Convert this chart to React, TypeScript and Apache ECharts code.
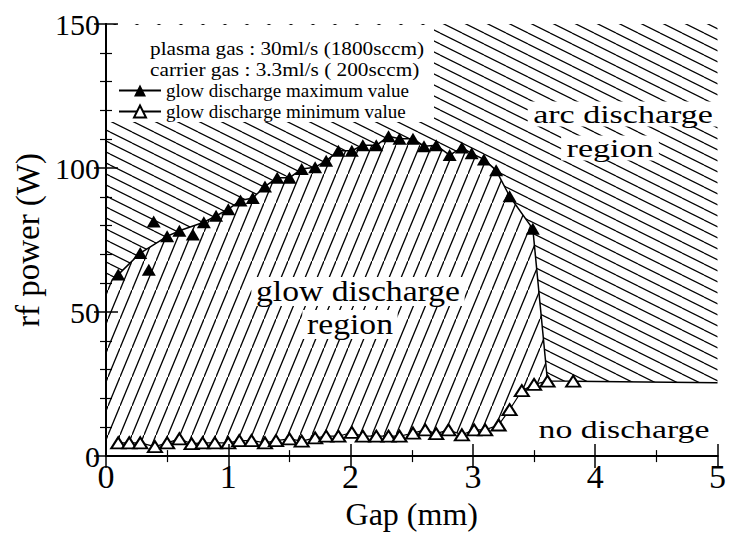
import React, { useEffect, useRef } from "react";
import * as echarts from "echarts";

// ---- data ----
// glow discharge maximum value (connected line)
const maxLine: [number, number][] = [
  [0.10, 63.0], [0.28, 70.5], [0.50, 76.3], [0.60, 78.2], [0.80, 81.2],
  [0.90, 83.4], [1.00, 85.7], [1.10, 88.7], [1.20, 89.6], [1.30, 93.6],
  [1.40, 96.6], [1.50, 96.6], [1.60, 99.7], [1.71, 100.3], [1.80, 102.5],
  [1.90, 106.0], [2.01, 106.0], [2.10, 107.9], [2.21, 107.9], [2.31, 111.0],
  [2.40, 110.2], [2.51, 110.2], [2.60, 107.6], [2.70, 107.9], [2.81, 104.5],
  [2.91, 107.1], [2.99, 105.1], [3.09, 103.0], [3.19, 99.2], [3.30, 90.2],
  [3.49, 78.9],
];
// glow discharge maximum value (points off the line)
const maxExtra: [number, number][] = [
  [0.35, 64.7], [0.39, 81.4], [0.71, 76.9],
];
// glow discharge minimum value
const minLine: [number, number][] = [
  [0.10, 4.6], [0.19, 4.6], [0.28, 4.6], [0.40, 3.3], [0.50, 4.6],
  [0.60, 6.0], [0.70, 4.3], [0.79, 4.6], [0.89, 4.6], [1.00, 4.6],
  [1.09, 5.4], [1.19, 5.4], [1.30, 4.6], [1.39, 5.4], [1.50, 6.0],
  [1.60, 5.2], [1.71, 6.3], [1.80, 6.9], [1.90, 6.9], [2.01, 8.2],
  [2.10, 6.9], [2.21, 6.9], [2.31, 6.9], [2.40, 6.9], [2.51, 8.0],
  [2.61, 9.1], [2.70, 7.8], [2.80, 9.1], [2.91, 7.4], [3.01, 9.1],
  [3.10, 9.1], [3.21, 10.8], [3.30, 16.1], [3.40, 22.7], [3.50, 24.9],
  [3.61, 26.0], [3.82, 26.0],
];
// region boundaries
const turnX = 3.61; // where the max boundary drops onto the min curve
const glowLeftTop = 60; // boundary at the left axis (upper)
const glowLeftBottom = 4.6; // boundary at the left axis (lower)
const noDischargeLevel = 25.5; // upper edge of the "no discharge" region
const xMin = 0, xMax = 5, xInterval = 1;
const yMin = 0, yMax = 150, yInterval = 50;

const SERIF = "Liberation Serif";
const MAX_NAME = "glow discharge maximum value";
const MIN_NAME = "glow discharge minimum value";

function hatch(w: number, h: number, dir: "up" | "down", sw: number) {
  let lines = "";
  for (let k = -1; k <= 1; k++) {
    if (dir === "up") {
      lines += `<line x1="0" y1="${h + k * h}" x2="${w}" y2="${k * h}"/>`;
    } else {
      lines += `<line x1="0" y1="${k * h}" x2="${w}" y2="${h + k * h}"/>`;
    }
  }
  const svg = `<svg xmlns="http://www.w3.org/2000/svg" width="${w}" height="${h}" viewBox="0 0 ${w} ${h}"><g stroke="#000" stroke-width="${sw}">${lines}</g></svg>`;
  return {
    image: "data:image/svg+xml;base64," + btoa(svg),
    repeat: "repeat",
    imageWidth: w,
    imageHeight: h,
  };
}

function label(text: string, x: number, y: number, size: number, opts: any = {}) {
  const { scaleX = 1, bg = false, align = "center" } = opts;
  return {
    type: "text",
    z: 7,
    x,
    y,
    scaleX,
    style: {
      text,
      fill: "#000",
      fontFamily: SERIF,
      fontSize: size,
      align,
      verticalAlign: "middle",
      textAlign: align,
      textVerticalAlign: "middle",
      backgroundColor: bg ? "#fff" : undefined,
      padding: bg ? [0, 4] : 0,
    },
  };
}

export default function App() {
  const ref = useRef<HTMLDivElement>(null);
  useEffect(() => {
    if (!ref.current) return;
    const chart = echarts.init(ref.current, null, { renderer: "svg" });
    const glowPattern = hatch(12, 29, "up", 1.3);
    const arcPattern = hatch(22, 11, "down", 1.2);

    const minUpToTurn = minLine.filter((d) => d[0] <= turnX);
    const minAfterTurn = minLine.filter((d) => d[0] >= turnX);
    const turnPt = minUpToTurn[minUpToTurn.length - 1];
    const lastMax = maxLine[maxLine.length - 1];
    const lastMin = minLine[minLine.length - 1];

    const tickStyle = { color: "#000", width: 1.5 };
    const minorStyle = { color: "#000", width: 1.2 };
    const axisCommon = {
      axisLine: { show: true, lineStyle: { color: "#000", width: 2 } },
      axisTick: { show: true, inside: true, length: 12, lineStyle: tickStyle },
      splitLine: { show: false },
      z: 10,
    };

    const option: any = {
      animation: false,
      backgroundColor: "#fff",
      textStyle: { fontFamily: SERIF },
      grid: { left: 106, right: 11, top: 24, bottom: 68 },
      xAxis: [
        {
          ...axisCommon,
          type: "value",
          position: "bottom",
          min: xMin, max: xMax, interval: xInterval,
          minorTick: { show: true, splitNumber: 2, length: 6, lineStyle: minorStyle },
          axisLabel: { color: "#000", fontFamily: SERIF, fontSize: 34, margin: 3 },
          name: "Gap (mm)",
          nameLocation: "middle",
          nameGap: 31,
          nameTextStyle: { color: "#000", fontFamily: SERIF, fontSize: 32 },
        },
        {
          ...axisCommon,
          type: "value",
          position: "top",
          min: xMin, max: xMax, interval: xInterval,
          minorTick: { show: true, splitNumber: 2, length: 6, lineStyle: minorStyle },
          axisLabel: { show: false },
        },
      ],
      yAxis: [
        {
          ...axisCommon,
          type: "value",
          position: "left",
          min: yMin, max: yMax, interval: yInterval,
          minorTick: { show: true, splitNumber: 5, length: 6, lineStyle: minorStyle },
          axisLabel: { color: "#000", fontFamily: SERIF, fontSize: 30, margin: 6 },
          name: "rf power (W)",
          nameLocation: "middle",
          nameGap: 56,
          nameTextStyle: { color: "#000", fontFamily: SERIF, fontSize: 33 },
        },
        {
          ...axisCommon,
          type: "value",
          position: "right",
          min: yMin, max: yMax, interval: yInterval,
          minorTick: { show: true, splitNumber: 5, length: 6, lineStyle: minorStyle },
          axisLabel: { show: false },
        },
      ],
      legend: {
        data: [MAX_NAME, MIN_NAME],
        orient: "vertical",
        left: 118,
        top: 80,
        padding: 0,
        itemGap: 0,
        itemWidth: 42,
        itemHeight: 15,
        textStyle: { color: "#000", fontFamily: SERIF, fontSize: 19, lineHeight: 21 },
        selectedMode: false,
        z: 6,
      },
      graphic: [
        { type: "rect", z: 2, shape: { x: 107, y: 25, width: 327, height: 97 }, style: { fill: "#fff" } },
        label("plasma gas : 30ml/s (1800sccm)", 150, 48, 19, { align: "left", scaleX: 1.12 }),
        label("carrier gas : 3.3ml/s ( 200sccm)", 150, 69, 19, { align: "left", scaleX: 1.12 }),
        label("arc discharge", 623, 114, 25, { scaleX: 1.36, bg: true }),
        label("region", 610, 148, 25, { scaleX: 1.36, bg: true }),
        label("glow discharge", 358, 291.5, 29, { bg: true, scaleX: 1.16 }),
        label("region", 350, 324.5, 29, { bg: true, scaleX: 1.16 }),
        label("no discharge", 624, 429.5, 25, { scaleX: 1.35 }),
      ],
      series: [
        {
          type: "custom",
          silent: true,
          z: 1,
          xAxisIndex: 0,
          yAxisIndex: 0,
          data: [[0, 0]],
          encode: { x: 0, y: 1 },
          renderItem: (_params: any, api: any) => {
            const c = (p: number[]) => api.coord(p);
            const glow = [
              [xMin, glowLeftTop],
              ...maxLine,
              turnPt,
              ...minUpToTurn.slice().reverse(),
              [xMin, glowLeftBottom],
            ].map(c);
            const arc = [
              [xMin, yMax],
              [xMax, yMax],
              [xMax, noDischargeLevel],
              ...minAfterTurn.slice().reverse(),
              ...maxLine.slice().reverse(),
              [xMin, glowLeftTop],
            ].map(c);
            return {
              type: "group",
              children: [
                { type: "polygon", shape: { points: arc }, style: { fill: arcPattern, stroke: null } },
                { type: "polygon", shape: { points: glow }, style: { fill: glowPattern, stroke: null } },
              ],
            };
          },
        },
        {
          name: "boundary",
          type: "line",
          z: 3,
          silent: true,
          showSymbol: false,
          symbol: "none",
          data: [lastMax, turnPt],
          lineStyle: { color: "#000", width: 1.5 },
        },
        {
          name: "boundary",
          type: "line",
          z: 3,
          silent: true,
          showSymbol: false,
          symbol: "none",
          data: [lastMin, [xMax, noDischargeLevel]],
          lineStyle: { color: "#000", width: 1.5 },
        },
        {
          name: MAX_NAME,
          type: "line",
          z: 4,
          data: maxLine,
          symbol: "triangle",
          symbolSize: [14, 12],
          itemStyle: { color: "#000", opacity: 1 },
          lineStyle: { color: "#000", width: 1.5 },
        },
        {
          name: MAX_NAME,
          type: "scatter",
          z: 4,
          data: maxExtra,
          symbol: "triangle",
          symbolSize: [14, 12],
          itemStyle: { color: "#000", opacity: 1 },
        },
        {
          name: MIN_NAME,
          type: "line",
          z: 4,
          data: minLine,
          symbol: "emptyTriangle",
          symbolSize: [14, 11],
          itemStyle: { color: "#000", borderColor: "#000", borderWidth: 1.4 },
          lineStyle: { color: "#000", width: 1.2 },
        },
      ],
    };
    chart.setOption(option);
    return () => chart.dispose();
  }, []);
  return (
    <div
      ref={ref}
      style={{ position: "fixed", left: 0, top: 0, width: 729, height: 535, background: "#fff" }}
    />
  );
}
